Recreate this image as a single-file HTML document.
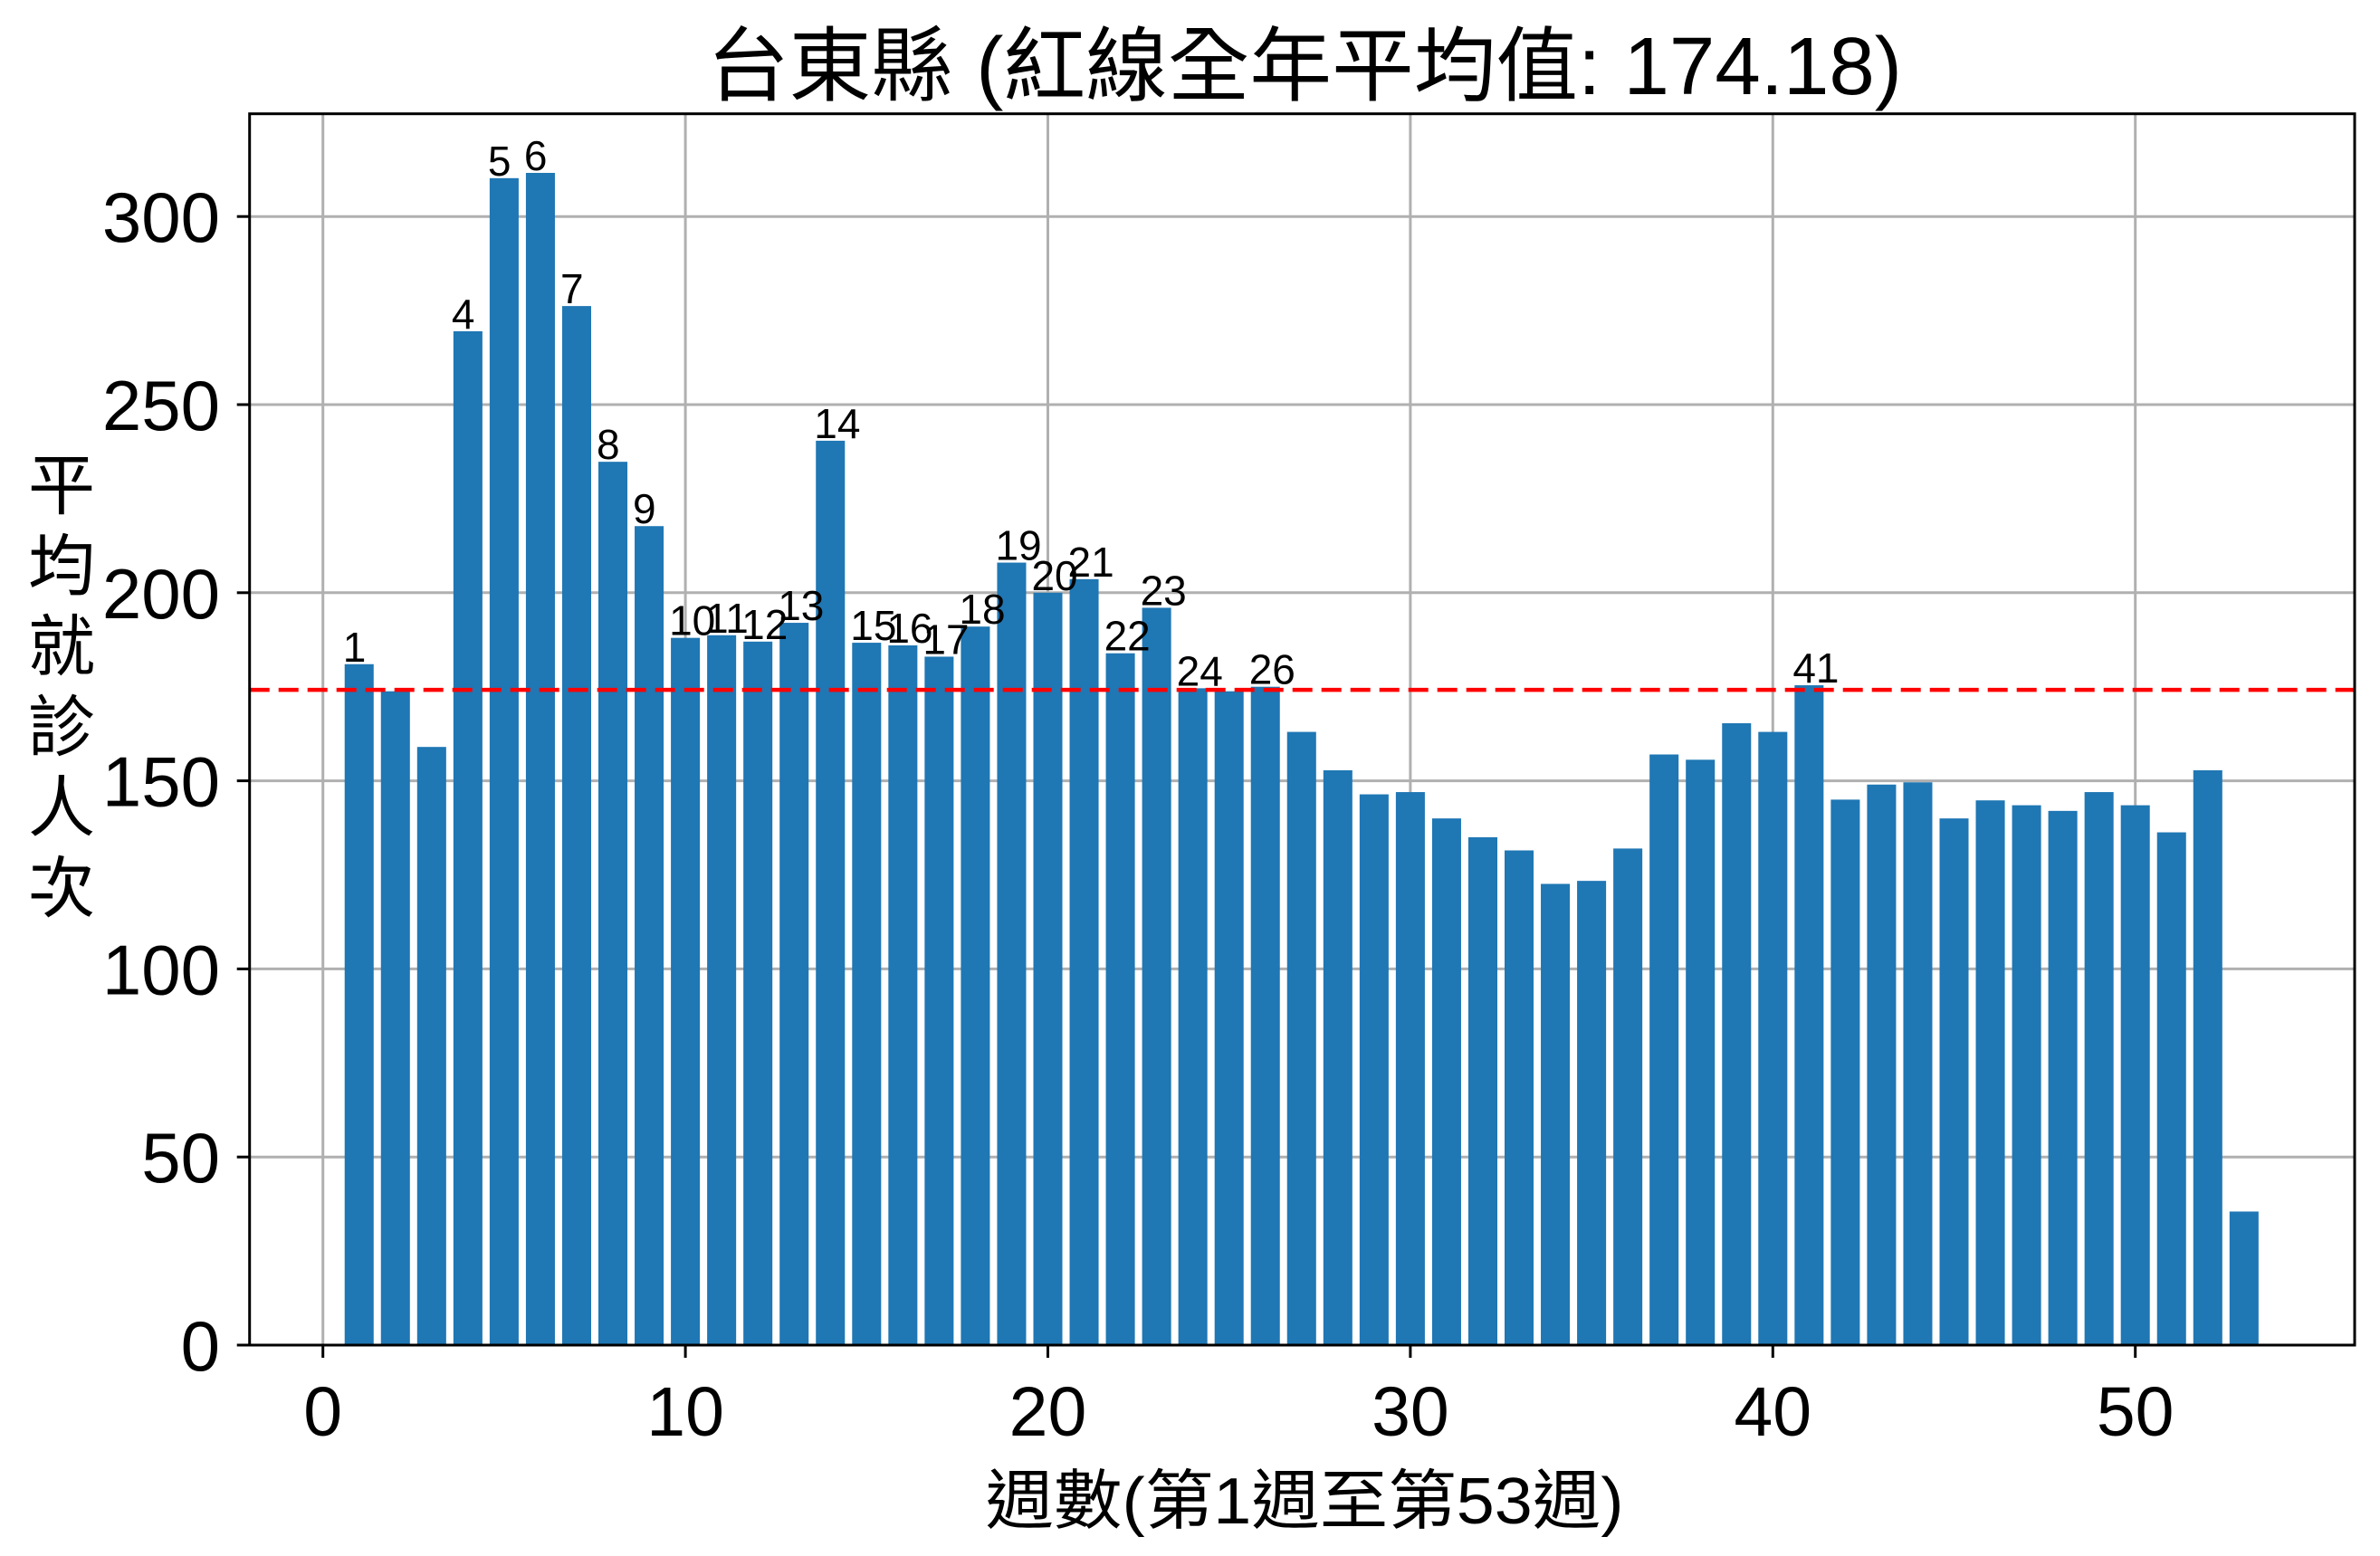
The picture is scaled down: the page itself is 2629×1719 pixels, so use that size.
<!DOCTYPE html>
<html><head><meta charset="utf-8"><style>
html,body{margin:0;padding:0;background:#fff;}
svg{display:block;}
text{font-family:"Liberation Sans","Noto Sans CJK TC",sans-serif;fill:#000;}
</style></head><body>
<svg id="chart" width="2629" height="1719" viewBox="0 0 2629 1719" xmlns="http://www.w3.org/2000/svg">
<rect width="2629" height="1719" fill="#fff"/>
<g id="grid"></g>
<g id="bars"></g>
<g id="labels"></g>
<g id="meanline"></g>
<g id="axes"></g>
<text x="1441" y="104" font-size="90" text-anchor="middle" textLength="1320" lengthAdjust="spacingAndGlyphs">台東縣 (紅線全年平均值: 174.18)</text>
<text x="1441" y="1683" font-size="72" text-anchor="middle" textLength="705" lengthAdjust="spacingAndGlyphs">週數(第1週至第53週)</text>
<text font-size="74" text-anchor="middle">
<tspan x="68" y="562">平</tspan><tspan x="68" y="651">均</tspan><tspan x="68" y="740">就</tspan><tspan x="68" y="829">診</tspan><tspan x="68" y="918">人</tspan><tspan x="68" y="1007">次</tspan>
</text>
</svg>
<script>
const weeks = [1,2,3,4,5,6,7,8,9,10,11,12,13,14,15,16,17,18,19,20,21,22,23,24,25,26,27,28,29,30,31,32,33,34,35,36,37,38,39,40,41,42,43,44,45,46,47,48,49,50,51,52,53];
const visits = [181,173.8,159,269.5,310.2,311.6,276.2,234.8,217.7,188,188.7,187,192,240.4,186.7,186,183,191,208,200,203.6,183.9,196,174.6,173.8,175,163,152.8,146.4,147,140,135,131.5,122.6,123.4,132,157,155.6,165.3,163,175.4,145,149,149.6,140,144.8,143.5,142,147,143.5,136.3,152.8,35.5];
const meanValue = 174.18;
const xTicks = [0,10,20,30,40,50];
const yTicks = [0,50,100,150,200,250,300];

const NS = "http://www.w3.org/2000/svg";
const L = 275.7, R = 2601, T = 125.7, B = 1486;
const xScale = v => 356.7 + v * 40.04;
const yScale = v => 1486 - v * 4.156;
function mk(tag, attrs, parent) {
  const e = document.createElementNS(NS, tag);
  for (const k in attrs) e.setAttribute(k, attrs[k]);
  parent.appendChild(e);
  return e;
}
const grid = document.getElementById('grid');
const barsG = document.getElementById('bars');
const labelsG = document.getElementById('labels');
const axes = document.getElementById('axes');
const meanG = document.getElementById('meanline');

xTicks.forEach(t => {
  const x = xScale(t);
  const g = mk('line', {x1:x, x2:x, y1:T, y2:B, stroke:'#b0b0b0', 'stroke-width':3}, grid);
  
  
  const tk = mk('line', {x1:x, x2:x, y1:B, y2:B+14, stroke:'#000', 'stroke-width':3}, axes);
  
  
  const tl = mk('text', {x:x, y:1586, 'font-size':77, 'text-anchor':'middle'}, axes);
  tl.textContent = t;
  
  
});
yTicks.forEach(t => {
  const y = yScale(t);
  const g = mk('line', {x1:L, x2:R, y1:y, y2:y, stroke:'#b0b0b0', 'stroke-width':3}, grid);
  
  
  const tk = mk('line', {x1:L-14, x2:L, y1:y, y2:y, stroke:'#000', 'stroke-width':3}, axes);
  
  
  const tl = mk('text', {x:243, y:y+28, 'font-size':78, 'text-anchor':'end'}, axes);
  tl.textContent = t;
  
  
});
weeks.forEach((w, i) => {
  const v = visits[i];
  const x0 = xScale(w - 0.4), x1 = xScale(w + 0.4);
  const b = mk('rect', {x:x0, y:yScale(v), width:x1-x0, height:yScale(0)-yScale(v), fill:'#1f77b4'}, barsG);
  
  
  if (v > meanValue) {
    const t = mk('text', {x:x0-2, y:yScale(v)-3, 'font-size':46}, labelsG);
    t.textContent = w;
    
    
  }
});
const ml = mk('line', {x1:L, x2:R, y1:yScale(meanValue), y2:yScale(meanValue), stroke:'#ff0000', 'stroke-width':4.5, 'stroke-dasharray':'22 10'}, meanG);


const frame = mk('rect', {x:L, y:T, width:R-L, height:B-T, fill:'none', stroke:'#000', 'stroke-width':3}, axes);


</script>
</body></html>
